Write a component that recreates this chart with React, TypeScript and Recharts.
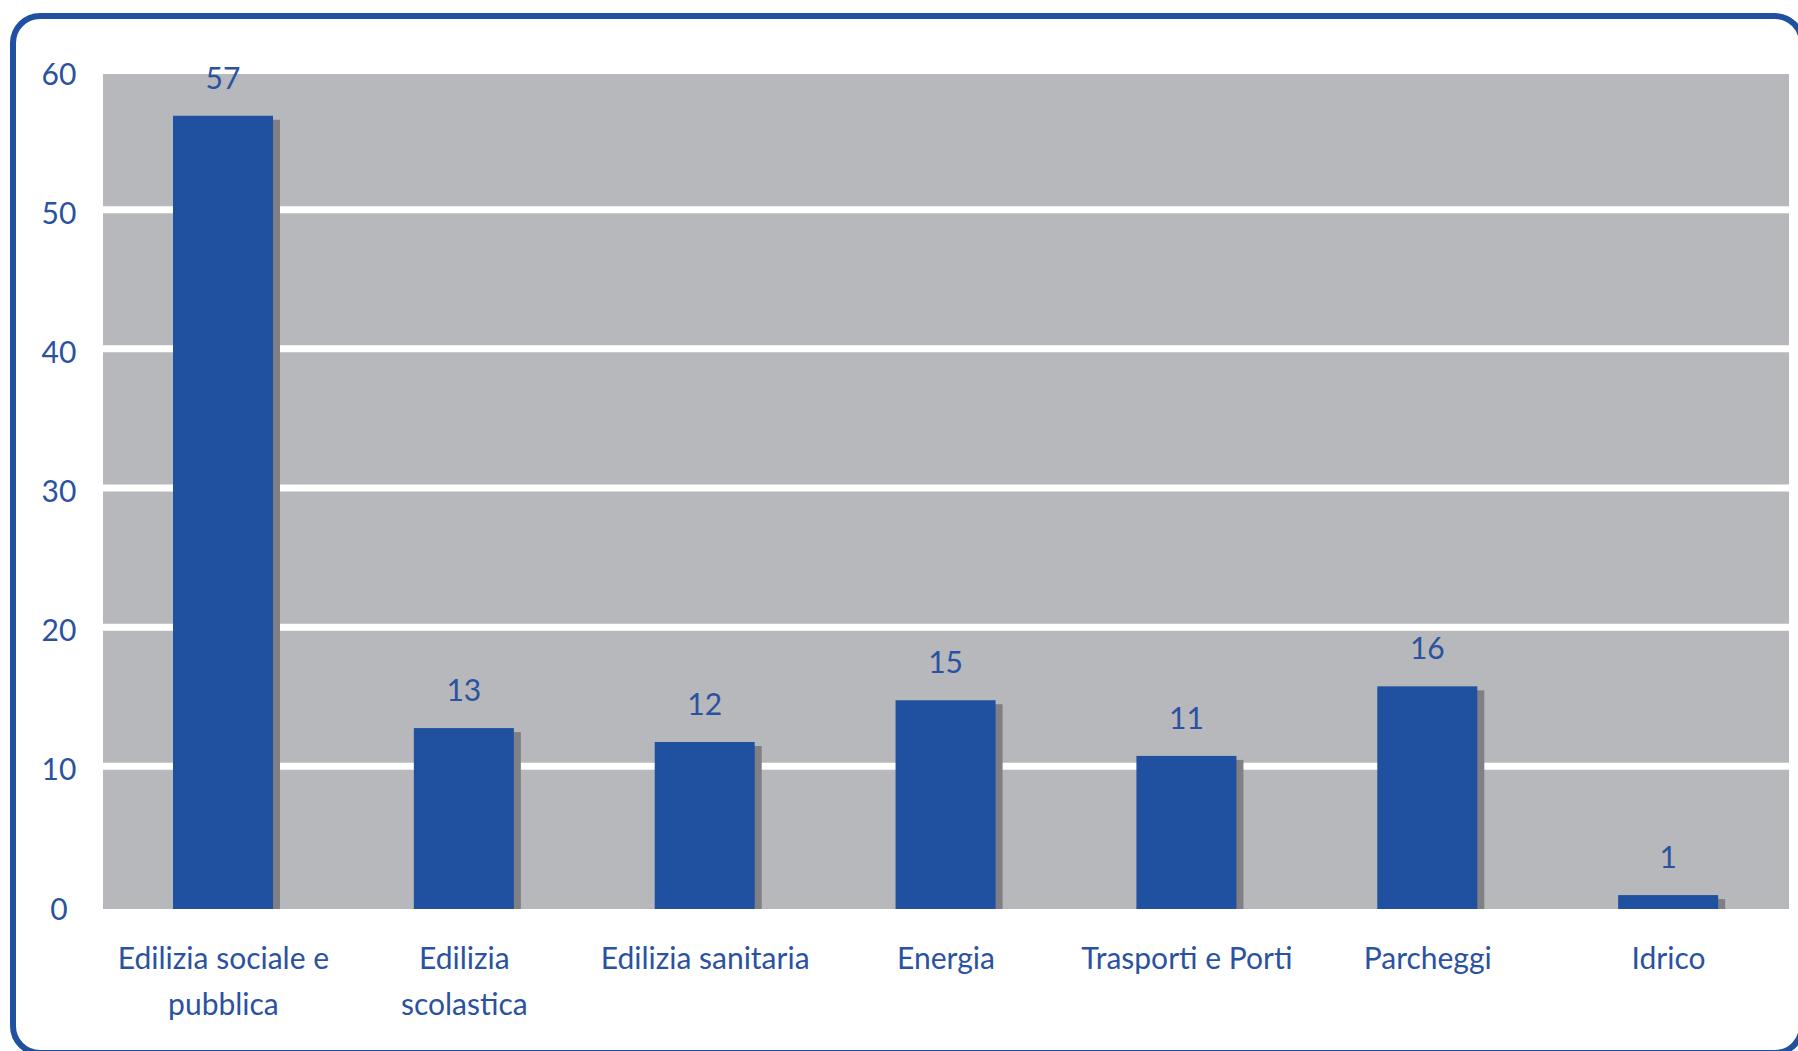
import React from 'react';
import { BarChart, Bar, XAxis, YAxis, CartesianGrid, LabelList } from 'recharts';

const categories = [
  'Edilizia sociale e pubblica',
  'Edilizia scolastica',
  'Edilizia sanitaria',
  'Energia',
  'Trasporti e Porti',
  'Parcheggi',
  'Idrico',
];
const values = [57, 13, 12, 15, 11, 16, 1];
const tickLines: string[][] = [
  ['Edilizia sociale e', 'pubblica'],
  ['Edilizia', 'scolastica'],
  ['Edilizia sanitaria'],
  ['Energia'],
  ['Trasporti e Porti'],
  ['Parcheggi'],
  ['Idrico'],
];
const yTicks = [0, 10, 20, 30, 40, 50, 60];
const gridValues = [10, 20, 30, 40, 50];

const data = categories.map((c, i) => ({ name: c, value: values[i], lines: tickLines[i] }));

const BLUE = '#2050a0';
const TEXT = '#2a52a0';
const FONT = 'Lato, "Open Sans", sans-serif';

const BarShape = (props: any) => {
  const { x, y, width, height } = props;
  if (height == null || height <= 0) return null;
  return (
    <g>
      <rect x={x + 7} y={y + 4} width={width} height={Math.max(0, height - 4)} fill="#7f7f84" />
      <rect x={x} y={y} width={width} height={height} fill={BLUE} />
    </g>
  );
};

const XTick = (props: any) => {
  const { x, y, index } = props;
  const lines = tickLines[index] || [];
  return (
    <text x={x} y={y} textAnchor="middle" fill={TEXT} fontSize={30} fontFamily={FONT}>
      {lines.map((l, i) => (
        <tspan key={i} x={x} y={y + 58 + i * 46}>
          {l}
        </tspan>
      ))}
    </text>
  );
};

const YTick = (props: any) => {
  const { x, y, payload } = props;
  return (
    <text x={x - 42} y={y} dy="0.355em" textAnchor="middle" fill={TEXT} fontSize={30} fontFamily={FONT}>
      {payload.value}
    </text>
  );
};

const GridLine = (props: any) => {
  const { x1, x2, y1, y2, index } = props;
  return <line key={`g-${index}-${y1}`} x1={x1} x2={x2} y1={y1 - 3.5} y2={y2 - 3.5} stroke="#ffffff" strokeWidth={7} />;
};

export default function App() {
  return (
    <div style={{ position: 'absolute', left: 0, top: 0, width: 1798, height: 1051, overflow: 'hidden', background: '#fff', fontFamily: FONT }}>
      <div
        style={{
          position: 'absolute',
          left: 10,
          top: 13,
          width: 1795,
          height: 1043,
          border: `6px solid ${BLUE}`,
          borderRadius: 30,
          boxSizing: 'border-box',
        }}
      />
      <div style={{ position: 'absolute', left: 0, top: 0 }}>
        <BarChart width={1798} height={1051} data={data} margin={{ top: 74, right: 9, bottom: 42, left: 43 }} barCategoryGap={0}>
          <CartesianGrid
            fill="#b7b8bb"
            vertical={false}
            horizontal={GridLine as any}
            horizontalValues={gridValues}
            stroke="#ffffff"
            fillOpacity={1}
          />
          <XAxis dataKey="name" tick={<XTick />} tickLine={false} axisLine={false} tickSize={0} height={100} interval={0} />
          <YAxis
            domain={[0, 60]}
            ticks={yTicks}
            tick={<YTick />}
            tickLine={false}
            axisLine={false}
            tickSize={0}
            width={60}
            interval={0}
          />
          <Bar dataKey="value" barSize={100} shape={<BarShape />} isAnimationActive={false}>
            <LabelList dataKey="value" position="top" offset={27} fill={TEXT} fontSize={30} fontFamily={FONT} />
          </Bar>
        </BarChart>
      </div>
    </div>
  );
}
